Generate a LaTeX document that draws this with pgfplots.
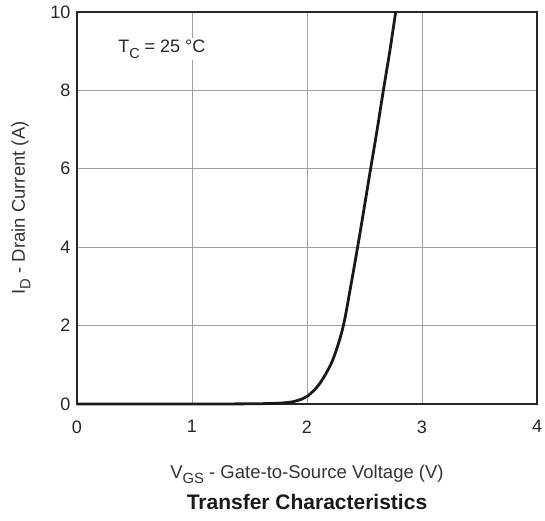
\documentclass[border=0pt]{standalone}
\usepackage{pgfplots}
\pgfplotsset{compat=1.18}
\usepackage{fontspec}
\setmainfont{Liberation Sans}
\newcommand{\sub}[1]{\raisebox{-0.3em}{\scalebox{0.8}{#1}}}
\begin{document}
\begin{tikzpicture}
\useasboundingbox (-77pt,-116pt) rectangle (468pt,404pt);
\begin{axis}[
  at={(0,0)}, anchor=south west,
  scale only axis, width=460pt, height=392pt,
  xmin=0, xmax=4, ymin=0, ymax=10,
  xtick={0,1,2,3,4}, ytick={0,2,4,6,8,10},
  major tick length=0pt,
  grid=major,
  grid style={gray!75, line width=0.9pt},
  axis line style={black!85, line width=1.8pt},
  /pgf/number format/assume math mode=true,
  tick label style={font=\fontsize{18}{21}\selectfont, text=black!85},
  xticklabel style={yshift=-13pt},
  yticklabel style={xshift=-3pt},
  xlabel={V\sub{GS} - Gate-to-Source Voltage (V)},
  ylabel={I\sub{D} - Drain Current (A)},
  label style={font=\fontsize{18.5}{21}\selectfont, text=black!80},
  xlabel style={at={(axis description cs:0.5,-0.189)}, anchor=base},
  ylabel style={at={(axis description cs:-0.122,0.5)}, anchor=center},
  clip=false,
]
\addplot[black!90, line width=2.8pt, smooth, tension=0.6, line join=round] coordinates {
(0,0) (1.0,0.0) (1.5,0.005) (1.7,0.015) (1.8,0.03) (1.88,0.06) (1.95,0.12)
(2.0,0.19) (2.1,0.48) (2.2,0.97) (2.26,1.42) (2.32,2.05) (2.38,3.0)
(2.44,4.0) (2.497,5.0) (2.553,6.0) (2.61,7.0)
(2.664,8.0) (2.72,9.0) (2.771,10.0)
};
\node[fill=white, anchor=west, inner sep=2pt, font=\fontsize{18}{21}\selectfont, text=black!85]
  at (axis cs:0.34,9.05) {T\sub{C} = 25 °C};
\node[anchor=base, font=\bfseries\fontsize{21}{24}\selectfont, text=black!90]
  at (axis description cs:0.5,-0.27) {Transfer Characteristics};
\end{axis}
\end{tikzpicture}
\end{document}
